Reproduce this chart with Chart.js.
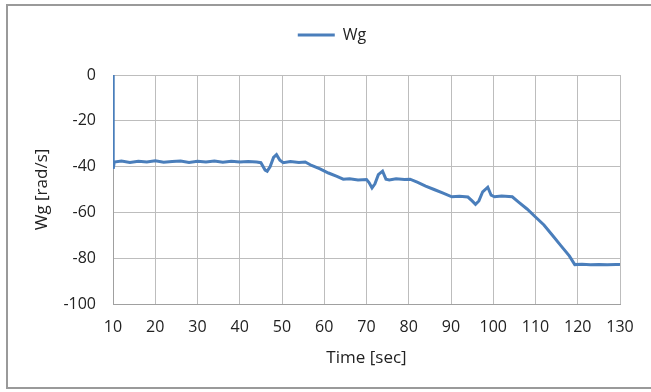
<!DOCTYPE html>
<html>
<head>
<meta charset="utf-8">
<script src="https://cdn.jsdelivr.net/npm/chart.js@4.4.1/dist/chart.umd.min.js"></script>
<style>
  html, body { margin: 0; padding: 0; background: #fff; }
  #wrap { position: relative; width: 651px; height: 392px; overflow: hidden; }
  #frame { position: absolute; left: 6px; top: 4px; width: 660px; height: 385px; border: 2px solid #9a9a9a; box-sizing: border-box; }
  canvas { position: absolute; left: 0; top: 0; }
</style>
</head>
<body>
<div id="wrap">
  <div id="frame"></div>
  <canvas id="lineChart" width="651" height="392"></canvas>
</div>
<script>
// time samples [sec]
const timeSec = [10, 10.05, 10.3, 12, 14, 16, 18, 20, 22, 24, 26, 28, 30, 32, 34, 36, 38, 40, 42, 44,
    45, 46, 46.5, 47.2, 48, 48.7, 49.5, 50.3, 52, 54, 55.5, 57, 59, 61, 63, 64.5, 66, 68, 70,
    70.6, 71.3, 72, 72.8, 73.8, 74.6, 75.4, 77, 79, 80.3, 82, 84, 86, 88, 90.2, 92, 94,
    95, 95.8, 96.6, 97.5, 98.7, 99.5, 100.3, 102, 104.5, 106, 108, 110, 112, 114, 116, 118,
    119.3, 121, 123, 125, 127, 129, 130];

// Wg [rad/s]
const wgValues = [0, -41, -38, -37.6, -38.2, -37.7, -38, -37.5, -38.1, -37.8, -37.6, -38.2, -37.7, -38, -37.6, -38.1, -37.7, -38, -37.8, -38,
    -38.3, -41.5, -42, -40, -36, -34.8, -37.2, -38.3, -37.8, -38.2, -38, -39.5, -41, -42.8, -44.3, -45.5, -45.3, -45.8, -45.6,
    -47, -49.3, -47.5, -43.5, -42, -45.5, -45.8, -45.3, -45.6, -45.5, -46.8, -48.5, -50, -51.5, -53.2, -53, -53.3,
    -55, -56.5, -55, -51, -49, -52.5, -53.2, -52.8, -53.2, -55.5, -58.5, -62, -65.5, -70, -74.5, -79,
    -82.8, -82.6, -82.9, -82.7, -82.9, -82.7, -82.8];

const xTicks = [10, 20, 30, 40, 50, 60, 70, 80, 90, 100, 110, 120, 130];
const yTicks = [0, -20, -40, -60, -80, -100];

const lineColor = '#4a7ebb';
const gridColor = '#bdbdbd';
const textColor = '#222';
const tickFont = { family: 'Open Sans', size: 16 };
const titleFont = { family: 'Open Sans', size: 17 };

const points = timeSec.map((t, i) => ({ x: t, y: wgValues[i] }));

// push the plot down below the legend and nudge the legend right, like the spreadsheet layout
const legendGap = {
    id: 'legendGap',
    afterInit(chart) {
        const fit = chart.legend.fit;
        chart.legend.fit = function () {
            fit.call(this);
            this.height += 22;
        };
    },
    afterLayout(chart) {
        chart.legend.left += 22;
        chart.legend.right += 22;
    }
};

new Chart(document.getElementById('lineChart'), {
    type: 'line',
    data: {
        datasets: [{
            label: 'Wg',
            data: points,
            borderColor: lineColor,
            backgroundColor: lineColor,
            borderWidth: 3,
            pointRadius: 0,
            tension: 0
        }]
    },
    options: {
        responsive: false,
        animation: false,
        layout: { padding: { left: 0, right: 31, top: 15, bottom: 18 } },
        plugins: {
            legend: {
                position: 'top',
                labels: {
                    color: textColor,
                    font: tickFont,
                    boxWidth: 37,
                    boxHeight: 3,
                    padding: 12,
                    generateLabels: (chart) => Chart.defaults.plugins.legend.labels.generateLabels(chart)
                        .map(l => Object.assign(l, { lineWidth: 0 }))
                }
            },
            tooltip: { enabled: false }
        },
        scales: {
            x: {
                type: 'linear',
                min: 10,
                max: 130,
                afterBuildTicks: (s) => { s.ticks = xTicks.map(v => ({ value: v })); },
                afterFit: (s) => { s.height = 70; },
                grid: { color: gridColor, drawTicks: false },
                border: { color: '#a0a0a0' },
                ticks: { color: textColor, font: tickFont, padding: 14, maxRotation: 0 },
                title: { display: true, text: 'Time [sec]', color: textColor, font: titleFont, padding: { top: 4, bottom: 6 } }
            },
            y: {
                min: -100,
                max: 0,
                afterBuildTicks: (s) => { s.ticks = yTicks.map(v => ({ value: v })); },
                afterFit: (s) => { s.width = 113; },
                grid: { color: gridColor, drawTicks: false },
                border: { color: '#a0a0a0' },
                ticks: { color: textColor, font: tickFont, padding: 17 },
                title: { display: true, text: 'Wg [rad/s]', color: textColor, font: titleFont, padding: { top: 32, bottom: 4 } }
            }
        }
    },
    plugins: [legendGap]
});
</script>
</body>
</html>
